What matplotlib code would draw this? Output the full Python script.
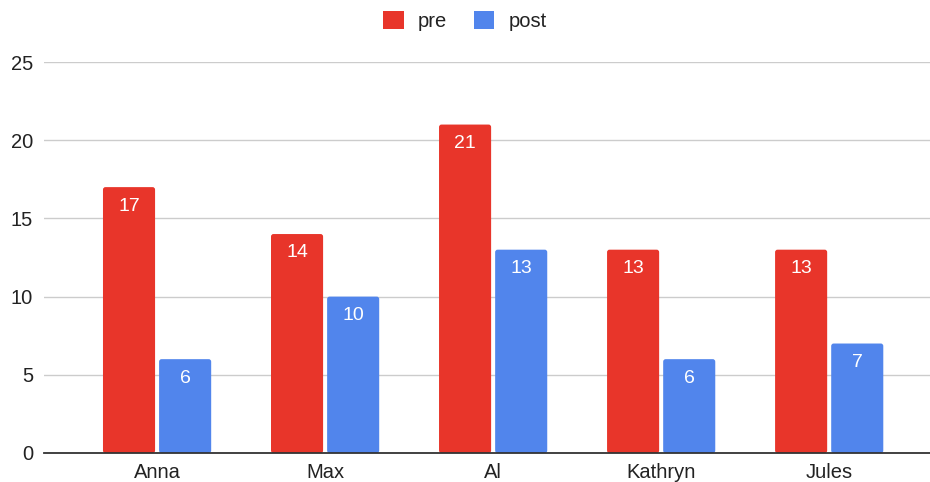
import matplotlib
matplotlib.use("Agg")
import matplotlib.pyplot as plt
from matplotlib.patches import Patch, FancyBboxPatch
import numpy as np

plt.rcParams['font.family'] = ['Liberation Sans', 'DejaVu Sans']

names = ["Anna", "Max", "Al", "Kathryn", "Jules"]
pre = [17, 14, 21, 13, 13]
post = [6, 10, 13, 6, 7]
yticks = [0, 5, 10, 15, 20, 25]

red = "#E8352A"
blue = "#5185EC"

W, H = 930, 482
left, right, bottom, top = 44, 930, 453, 62
fig = plt.figure(figsize=(W / 100, H / 100), dpi=100)
ax = fig.add_axes([left / W, (H - bottom) / H, (right - left) / W, (bottom - top) / H])

x = np.arange(len(names))
w = 0.31
off = 0.167
xlim = (-0.673, 4.60)
ylim = (0, 25)
ax.set_xlim(*xlim)
ax.set_ylim(*ylim)

b1 = ax.bar(x - off, pre, w, color=red, zorder=3)
b2 = ax.bar(x + off, post, w, color=blue, zorder=3)

# swap the plain rectangles for slightly rounded ones
px_per_x = (right - left) / (xlim[1] - xlim[0])
px_per_y = (bottom - top) / (ylim[1] - ylim[0])
for bars in (b1, b2):
    for r in bars:
        r.set_visible(False)
        ax.add_patch(FancyBboxPatch((r.get_x(), r.get_y()), r.get_width(), r.get_height(),
                                    boxstyle="round,pad=0,rounding_size=%f" % (2.5 / px_per_x),
                                    mutation_aspect=px_per_x / px_per_y,
                                    facecolor=r.get_facecolor(), edgecolor="none", zorder=3))

for bars, vals in ((b1, pre), (b2, post)):
    for r, v in zip(bars, vals):
        ax.annotate(str(v), (r.get_x() + r.get_width() / 2, v),
                    xytext=(0, -7.5), textcoords="offset points",
                    ha="center", va="top", color="white", fontsize=14, zorder=4)

ax.set_yticks(yticks)
ax.set_xticks(x)
ax.set_xticklabels(names)
ax.tick_params(axis="both", length=0, labelsize=14.5, colors="#222222")
ax.tick_params(axis="y", pad=8)
ax.tick_params(axis="x", pad=7)
ax.yaxis.grid(True, color="#cccccc", linewidth=1, zorder=0)
for s in ("top", "right", "left"):
    ax.spines[s].set_visible(False)
ax.spines["bottom"].set_color("#333333")
ax.spines["bottom"].set_linewidth(1.3)
ax.spines["bottom"].set_zorder(5)

handles = [Patch(facecolor=red, edgecolor="none", label="pre"),
           Patch(facecolor=blue, edgecolor="none", label="post")]
fig.legend(handles=handles, loc="center", bbox_to_anchor=(0.5, 1 - 21 / H),
           ncol=2, frameon=False, fontsize=14.5, handlelength=1.0, handleheight=1.0,
           handletextpad=0.7, columnspacing=1.35, labelcolor="#222222")

fig.savefig("out.png", dpi=100)
